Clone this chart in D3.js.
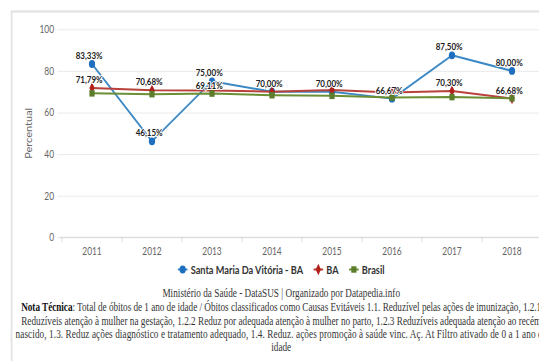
<!DOCTYPE html>
<html>
<head>
<meta charset="utf-8">
<script src="https://cdn.jsdelivr.net/npm/d3@7"></script>
<style>
  html, body { margin: 0; padding: 0; background: #fff; overflow: hidden; }
  svg { display: block; }
</style>
</head>
<body>
<svg id="chart" width="539" height="361"></svg>
<script>
// ---- data ----
const years = ["2011", "2012", "2013", "2014", "2015", "2016", "2017", "2018"];
const santaMaria = [83.33, 46.15, 75.00, 70.00, 70.00, 66.67, 87.50, 80.00];
const ba = [71.79, 70.68, 70.60, 70.00, 70.80, 69.60, 70.30, 66.68];
const brasil = [69.20, 68.80, 69.11, 68.30, 68.00, 67.20, 67.40, 66.80];
const yTicks = [0, 20, 40, 60, 80, 100];
const seriesNames = ["Santa Maria Da Vitória - BA", "BA", "Brasil"];
// years whose value label is printed, per series
const santaMariaLabelYears = ["2011", "2012", "2013", "2014", "2015", "2016", "2017", "2018"];
const baLabelYears = ["2011", "2012", "2017", "2018"];
const brasilLabelYears = ["2013"];
const yTitle = "Percentual";
const sourceLine = "Ministério da Saúde - DataSUS | Organizado por Datapedia.info";
const noteLead = "Nota Técnica";
const noteLines = [
  ": Total de óbitos de 1 ano de idade / Óbitos classificados como Causas Evitáveis 1.1. Reduzível pelas ações de imunização, 1.2.1",
  "Reduzíveis atenção à mulher na gestação, 1.2.2 Reduz por adequada atenção à mulher no parto, 1.2.3 Reduzíveis adequada atenção ao recém",
  "nascido, 1.3. Reduz ações diagnóstico e tratamento adequado, 1.4. Reduz. ações promoção à saúde vinc. Aç. At Filtro ativado de 0 a 1 ano de",
  "idade"
];

// ---- layout (drawn in a horizontally condensed frame) ----
const SX = 0.8;
const W = 539 / SX, H = 361;
const plot = { left: 77.5, right: 677.5, top: 29.3, bottom: 237.3 };
const centerX = 351.5;
const sansFont = "Lato, 'Open Sans', sans-serif";
const serifFont = "'Liberation Serif', 'DejaVu Serif', serif";

const series = [
  { name: seriesNames[0], values: santaMaria, labels: santaMariaLabelYears, line: "#3b88c4", fill: "#1f6fc0", symbol: d3.symbolCircle, size: 48 },
  { name: seriesNames[1], values: ba, labels: baLabelYears, line: "#b8413b", fill: "#b3211d", symbol: d3.symbolDiamond, size: 38 },
  { name: seriesNames[2], values: brasil, labels: brasilLabelYears, line: "#6a8f35", fill: "#5c7e2c", symbol: d3.symbolSquare, size: 42 }
];

const svg = d3.select("#chart");
svg.append("rect").attr("width", 539).attr("height", 361).attr("fill", "#fff");
const root = svg.append("g").attr("transform", `scale(${SX},1)`);

// card outline
root.append("rect")
  .attr("x", 14.5).attr("y", 11.5)
  .attr("width", W + 40).attr("height", H + 40)
  .attr("fill", "none").attr("stroke", "#e2e2e2").attr("stroke-width", 2.2);

const x = d3.scaleBand().domain(years).range([plot.left, plot.right]).padding(0);
const y = d3.scaleLinear().domain([0, 100]).range([plot.bottom, plot.top]);

// horizontal grid + y tick labels
const yAxis = d3.axisLeft(y).tickValues(yTicks).tickSize(-(W + 20 - (plot.left - 6))).tickPadding(4);
const gy = root.append("g").attr("transform", `translate(${plot.left - 6},0)`).call(yAxis);
gy.select(".domain").remove();
gy.selectAll(".tick line").attr("stroke", "#e8e8e8").attr("stroke-width", 1);
gy.selectAll(".tick text")
  .attr("fill", "#666").attr("font-family", sansFont).attr("font-size", 10.5);

// x axis: labels centred in each band, tick marks on band edges
const xAxis = d3.axisBottom(x).tickSize(0).tickPadding(10);
const gx = root.append("g").attr("transform", `translate(0,${plot.bottom})`).call(xAxis);
gx.select(".domain").remove();
gx.selectAll(".tick text")
  .attr("fill", "#666").attr("font-family", sansFont).attr("font-size", 10.5);
root.append("line")
  .attr("x1", plot.left - 3).attr("x2", W + 20)
  .attr("y1", y(0)).attr("y2", y(0))
  .attr("stroke", "#d5d5d5").attr("stroke-width", 1);
root.append("g").selectAll("line")
  .data(years.concat(["end"]))
  .join("line")
  .attr("x1", (d, i) => plot.left + i * x.step())
  .attr("x2", (d, i) => plot.left + i * x.step())
  .attr("y1", y(0)).attr("y2", y(0) + 5)
  .attr("stroke", "#d5d5d5").attr("stroke-width", 1);

// y axis title
root.append("text")
  .attr("transform", `translate(36,${(plot.top + plot.bottom) / 2}) rotate(-90)`)
  .attr("text-anchor", "middle").attr("dy", "0.35em")
  .attr("fill", "#666").attr("font-family", sansFont).attr("font-size", 11)
  .text(yTitle);

// series lines and markers
const cx = d => x(d) + x.bandwidth() / 2;
const line = d3.line().x(d => cx(d.year)).y(d => y(d.value));
series.forEach(s => {
  const pts = years.map((yr, i) => ({ year: yr, value: s.values[i] }));
  s.pts = pts;
  const g = root.append("g");
  g.append("path").datum(pts).attr("d", line)
    .attr("fill", "none").attr("stroke", s.line).attr("stroke-width", 2)
    .attr("stroke-linejoin", "round");
  g.selectAll("path.pt").data(pts).join("path")
    .attr("class", "pt")
    .attr("transform", d => `translate(${cx(d.year)},${y(d.value)})`)
    .attr("d", d3.symbol().type(s.symbol).size(s.size))
    .attr("fill", s.fill);
});

// value labels
const fmt = v => d3.format(".2f")(v).replace(".", ",") + "%";
const labelLayer = root.append("g");
series.forEach(s => {
  labelLayer.selectAll(null)
    .data(s.pts.filter(p => s.labels.includes(p.year)))
    .join("text")
    .attr("x", d => cx(d.year) - 3.5)
    .attr("y", d => y(d.value) - 5)
    .attr("text-anchor", "middle")
    .attr("font-family", sansFont).attr("font-size", 10).attr("font-weight", 700)
    .attr("fill", "#222")
    .attr("stroke", "#fff").attr("stroke-width", 2).attr("paint-order", "stroke")
    .attr("stroke-linejoin", "round")
    .text(d => fmt(d.value));
});

// legend, centred under the plot
const legend = root.append("g");
let lx = 0;
const items = series.map(s => {
  const g = legend.append("g");
  g.append("line").attr("x1", -6).attr("x2", 6).attr("y1", 0).attr("y2", 0)
    .attr("stroke", s.line).attr("stroke-width", 2);
  g.append("path").attr("d", d3.symbol().type(s.symbol).size(s.size)).attr("fill", s.fill);
  const t = g.append("text").attr("x", 10).attr("dy", "0.35em")
    .attr("font-family", sansFont).attr("font-size", 11.5).attr("font-weight", 700)
    .attr("fill", "#333").text(s.name);
  const w = 10 + t.node().getComputedTextLength();
  return { g, w };
});
const gap = 19;
const totalW = items.reduce((a, it) => a + it.w, 0) + gap * (items.length - 1) + 6;
lx = centerX - totalW / 2 + 6;
items.forEach(it => {
  it.g.attr("transform", `translate(${lx},269.5)`);
  lx += it.w + gap;
});

// source and technical note
root.append("text")
  .attr("x", centerX).attr("y", 297)
  .attr("text-anchor", "middle")
  .attr("font-family", serifFont).attr("font-size", 11.5).attr("fill", "#333")
  .attr("textLength", 297).attr("lengthAdjust", "spacing")
  .text(sourceLine);

const noteY = [311.5, 325, 338, 351];
const noteWidths = [650, 650, 664, null];
noteLines.forEach((txt, i) => {
  const t = root.append("text")
    .attr("x", centerX).attr("y", noteY[i])
    .attr("text-anchor", "middle")
    .attr("font-family", serifFont).attr("font-size", 11.5).attr("fill", "#333");
  if (i === 0) {
    t.append("tspan").attr("font-weight", 700).attr("fill", "#111").text(noteLead);
  }
  t.append("tspan").text(txt);
  if (noteWidths[i]) t.attr("textLength", noteWidths[i]).attr("lengthAdjust", "spacing");
});
</script>
</body>
</html>
